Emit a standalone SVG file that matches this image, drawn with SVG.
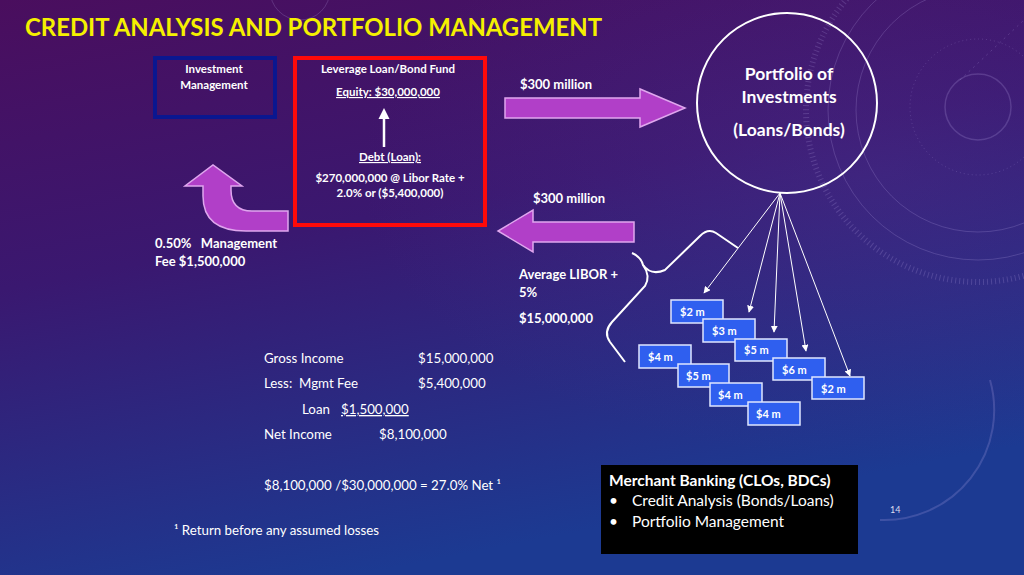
<svg xmlns="http://www.w3.org/2000/svg" width="1024" height="575" viewBox="0 0 1024 575">
<defs>
<linearGradient id="bg" x1="0" y1="0" x2="0.35" y2="1">
<stop offset="0" stop-color="#4a0e5e"/>
<stop offset="0.45" stop-color="#3a1870"/>
<stop offset="1" stop-color="#1c3a92"/>
</linearGradient>
<radialGradient id="glow" cx="0.85" cy="0.3" r="0.5">
<stop offset="0" stop-color="#5a3a9a" stop-opacity="0.25"/>
<stop offset="1" stop-color="#5a3a9a" stop-opacity="0"/>
</radialGradient>
<marker id="ah" viewBox="0 0 10 10" refX="9" refY="5" markerWidth="7" markerHeight="7" orient="auto" markerUnits="userSpaceOnUse">
<path d="M0,0 L10,5 L0,10 Z" fill="#ffffff"/>
</marker>
<style>
text{font-family:Lato,"Open Sans","Liberation Sans",sans-serif;fill:#ffffff;white-space:pre}
.b{font-weight:bold}
.lbl{font-size:13px;font-weight:bold}
.body{font-size:13.3px}
.sm{font-size:11.5px;font-weight:bold}
.box{fill:#2f5fef;stroke:#dfe6ff;stroke-width:1.5}
.boxt{font-size:11px;font-weight:bold}
.fat{fill:#b13fc8;stroke:#dfa6ee;stroke-width:1.5}
.conn{stroke:#ffffff;stroke-width:1;fill:none}
.deco{fill:none;stroke:#b9a8e8;stroke-opacity:0.22}
</style>
</defs>
<rect width="1024" height="575" fill="url(#bg)"/>
<rect width="1024" height="575" fill="url(#glow)"/>
<g id="decor">
<circle class="deco" cx="978" cy="107" r="33" stroke-width="1.5"/>
<circle class="deco" cx="978" cy="107" r="68" stroke-dasharray="1 3"/>
<circle class="deco" cx="978" cy="110" r="122" stroke-width="1"/>
<circle class="deco" cx="978" cy="110" r="150" stroke-width="1"/>
<circle class="deco" cx="978" cy="110" r="172" stroke-width="6" stroke-dasharray="1 3"/>
<circle class="deco" cx="300" cy="-10" r="30" stroke-width="1"/>
<path class="deco" d="M880,520 A110,110 0 0 0 990,380" stroke-width="2"/>
<path class="deco" d="M960,80 L1024,20" stroke-width="1" stroke-dasharray="2 4"/>
</g>
<text id="title" x="25" y="36" font-size="25" class="b" style="fill:#f5f000" textLength="577" lengthAdjust="spacingAndGlyphs">CREDIT ANALYSIS AND PORTFOLIO MANAGEMENT</text>
<g id="investment-management">
<rect x="155" y="58" width="120" height="59" fill="none" stroke="#0a1790" stroke-width="4"/>
<text class="sm" x="214" y="73" text-anchor="middle">Investment</text>
<text class="sm" x="214" y="89" text-anchor="middle">Management</text>
</g>
<g id="fund">
<rect x="295" y="58" width="190" height="167" fill="none" stroke="#ff0a0a" stroke-width="4"/>
<text class="sm" x="388" y="73" text-anchor="middle">Leverage Loan/Bond Fund</text>
<text class="sm" x="388" y="96" text-anchor="middle" text-decoration="underline">Equity: $30,000,000</text>
<path d="M384,147 L384,118" stroke="#ffffff" stroke-width="2.5"/>
<path d="M378.5,119 L384,108 L389.5,119 Z" fill="#ffffff"/>
<text class="sm" x="390" y="161" text-anchor="middle" text-decoration="underline">Debt (Loan):</text>
<text class="sm" x="390" y="182" text-anchor="middle">$270,000,000 @ Libor Rate +</text>
<text class="sm" x="390" y="197" text-anchor="middle">2.0% or ($5,400,000)</text>
</g>
<g id="portfolio">
<circle cx="787" cy="103" r="90" fill="none" stroke="#ffffff" stroke-width="2"/>
<text class="b" font-size="17.5" x="789" y="80" text-anchor="middle">Portfolio of</text>
<text class="b" font-size="17.5" x="789" y="103" text-anchor="middle">Investments</text>
<text class="b" font-size="17.5" x="789" y="136" text-anchor="middle">(Loans/Bonds)</text>
</g>
<g id="connectors">
<path class="fat" d="M505,98 L640,98 L640,89 L685,108 L640,127 L640,118 L505,118 Z"/>
<path class="fat" d="M634,222 L533,222 L533,210 L498,231 L533,252 L533,242 L634,242 Z"/>
<path class="fat" d="M288,211 L252,211 Q231,211 231,190 L231,186 L242,186 L213,165 L185,186 L203,186 L203,196 Q203,231 246,231 L288,231 Z"/>
<path d="M632,253 Q641,257 643,265 Q651,276 665,270 L700,236 Q708,228 716,233 L738,248" fill="none" stroke="#ffffff" stroke-width="2"/>
<path d="M643,265 Q651,276 645,286 L612,322 Q603,332 610,342 L625,362" fill="none" stroke="#ffffff" stroke-width="2"/>
<line class="conn" x1="780" y1="193" x2="704" y2="293" marker-end="url(#ah)"/>
<line class="conn" x1="780" y1="193" x2="749" y2="312" marker-end="url(#ah)"/>
<line class="conn" x1="780" y1="193" x2="774" y2="332" marker-end="url(#ah)"/>
<line class="conn" x1="780" y1="193" x2="806" y2="351" marker-end="url(#ah)"/>
<line class="conn" x1="780" y1="193" x2="850" y2="376" marker-end="url(#ah)"/>
</g>
<text class="lbl" x="520" y="89">$300 million</text>
<text class="lbl" x="533" y="203">$300 million</text>
<text class="lbl" x="519" y="279">Average LIBOR +</text>
<text class="lbl" x="519" y="297">5%</text>
<text class="lbl" x="519" y="323">$15,000,000</text>
<text class="lbl" x="155" y="248" xml:space="preserve">0.50%   Management</text>
<text class="lbl" x="155" y="266">Fee $1,500,000</text>
<g id="holdings">
<g id="h1"><rect class="box" x="671" y="300" width="52" height="23"/><text class="boxt" x="680" y="316">$2 m</text></g>
<g id="h2"><rect class="box" x="703" y="319" width="52" height="23"/><text class="boxt" x="712" y="335">$3 m</text></g>
<g id="h3"><rect class="box" x="735" y="339" width="52" height="22"/><text class="boxt" x="744" y="354">$5 m</text></g>
<g id="h4"><rect class="box" x="773" y="358" width="52" height="22"/><text class="boxt" x="782" y="374">$6 m</text></g>
<g id="h5"><rect class="box" x="812" y="377" width="52" height="22"/><text class="boxt" x="821" y="393">$2 m</text></g>
<g id="h6"><rect class="box" x="639" y="345" width="52" height="23"/><text class="boxt" x="648" y="361">$4 m</text></g>
<g id="h7"><rect class="box" x="678" y="364" width="51" height="23"/><text class="boxt" x="686" y="380">$5 m</text></g>
<g id="h8"><rect class="box" x="710" y="383" width="52" height="23"/><text class="boxt" x="718" y="399">$4 m</text></g>
<g id="h9"><rect class="box" x="748" y="402" width="52" height="23"/><text class="boxt" x="756" y="418">$4 m</text></g>
</g>
<g id="income">
<text class="body" x="264" y="363">Gross Income</text>
<text class="body" x="418" y="363">$15,000,000</text>
<text class="body" x="264" y="388" xml:space="preserve">Less:  Mgmt Fee</text>
<text class="body" x="418" y="388">$5,400,000</text>
<text class="body" x="302" y="414">Loan</text>
<text class="body" x="341" y="414" text-decoration="underline">$1,500,000</text>
<text class="body" x="264" y="439">Net Income</text>
<text class="body" x="379" y="439">$8,100,000</text>
<text class="body" x="264" y="490">$8,100,000 /$30,000,000 = 27.0% Net ¹</text>
<text class="body" x="174" y="535">¹ Return before any assumed losses</text>
</g>
<g id="merchant-banking">
<rect x="601" y="465" width="257" height="89" fill="#000000"/>
<text class="b" font-size="15.5" x="609" y="486">Merchant Banking (CLOs, BDCs)</text>
<text font-size="15.5" x="609" y="506">•</text>
<text font-size="15.5" x="632" y="506">Credit Analysis (Bonds/Loans)</text>
<text font-size="15.5" x="609" y="527">•</text>
<text font-size="15.5" x="632" y="527">Portfolio Management</text>
</g>
<text x="890" y="513" font-size="9" style="fill:#dde">14</text>
</svg>
